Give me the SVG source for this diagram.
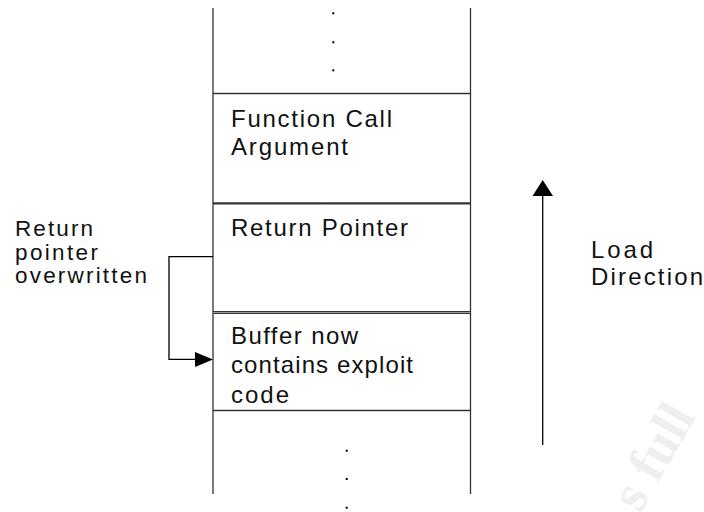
<svg xmlns="http://www.w3.org/2000/svg" width="704" height="512" viewBox="0 0 704 512">
  <style>
    .lbl { font-family: "Liberation Sans", Arial, sans-serif; font-size: 24px; fill: #111; }
    .side { font-family: "Liberation Sans", Arial, sans-serif; font-size: 22.5px; fill: #111; }
    .wall { stroke: #333; stroke-width: 1.3; fill: none; }
    .sep { stroke: #333; stroke-width: 1.3; fill: none; }
    .wire { stroke: #000; stroke-width: 1.3; fill: none; }
    .dot { fill: #000; }
    .mark { font-family: "Liberation Serif", "Times New Roman", serif; font-weight: bold; font-size: 54px; fill: #efefef; }
  </style>

  <!-- faint background mark -->
  <text class="mark" transform="translate(640,514) rotate(-60)">s full</text>

  <!-- stack walls -->
  <g id="stack">
    <line class="wall" x1="213" y1="8" x2="213" y2="494"/>
    <line class="wall" x1="470.5" y1="8" x2="470.5" y2="494"/>
    <rect class="dot" x="332.3" y="12.3" width="2" height="2"/>
    <rect class="dot" x="332.3" y="41.3" width="2" height="2"/>
    <rect class="dot" x="332.3" y="69.3" width="2" height="2"/>
    <rect class="dot" x="345.7" y="449.7" width="2" height="2"/>
    <rect class="dot" x="345.7" y="478" width="2" height="2"/>
    <rect class="dot" x="345.7" y="506.7" width="2" height="2"/>
  </g>

  <g id="function-call-argument">
    <line class="sep" x1="213" y1="93.5" x2="470.5" y2="93.5"/>
    <text class="lbl" x="231" y="127.3" textLength="161" lengthAdjust="spacing">Function Call</text>
    <text class="lbl" x="231" y="155" textLength="117" lengthAdjust="spacing">Argument</text>
  </g>

  <g id="return-pointer">
    <line x1="213" y1="203.3" x2="470.5" y2="203.3" stroke="#333" stroke-width="2.2"/>
    <text class="lbl" x="231" y="235.7" textLength="177" lengthAdjust="spacing">Return Pointer</text>
  </g>

  <g id="buffer">
    <line x1="213" y1="312.5" x2="470.5" y2="312.5" stroke="#333" stroke-width="3"/>
    <line x1="213" y1="312.5" x2="470.5" y2="312.5" stroke="#9a9a9a" stroke-width="1"/>
    <text class="lbl" x="231" y="344.3" textLength="127" lengthAdjust="spacing">Buffer now</text>
    <text class="lbl" x="231" y="373.3" textLength="182" lengthAdjust="spacing">contains exploit</text>
    <text class="lbl" x="231" y="402.5" textLength="58" lengthAdjust="spacing">code</text>
    <line class="sep" x1="213" y1="410.5" x2="470.5" y2="410.5"/>
  </g>

  <g id="overwrite-note">
    <text class="side" x="15" y="236" textLength="78" lengthAdjust="spacing">Return</text>
    <text class="side" x="15" y="259.5" textLength="83" lengthAdjust="spacing">pointer</text>
    <text class="side" x="15" y="282.7" textLength="132" lengthAdjust="spacing">overwritten</text>
  </g>

  <g id="load-direction">
    <text class="lbl" x="591" y="258.3" textLength="62" lengthAdjust="spacing">Load</text>
    <text class="lbl" x="591" y="285" textLength="112" lengthAdjust="spacing">Direction</text>
  </g>

  <!-- connectors -->
  <g id="connectors">
    <polyline class="wire" points="213,256.7 169,256.7 169,359.3 196,359.3"/>
    <polygon points="195,352 195,367 213,359.5" fill="#000"/>
    <line class="wire" x1="542.7" y1="445" x2="542.7" y2="194"/>
    <polygon points="542.7,180 532.5,196 553,196" fill="#000"/>
  </g>
</svg>
